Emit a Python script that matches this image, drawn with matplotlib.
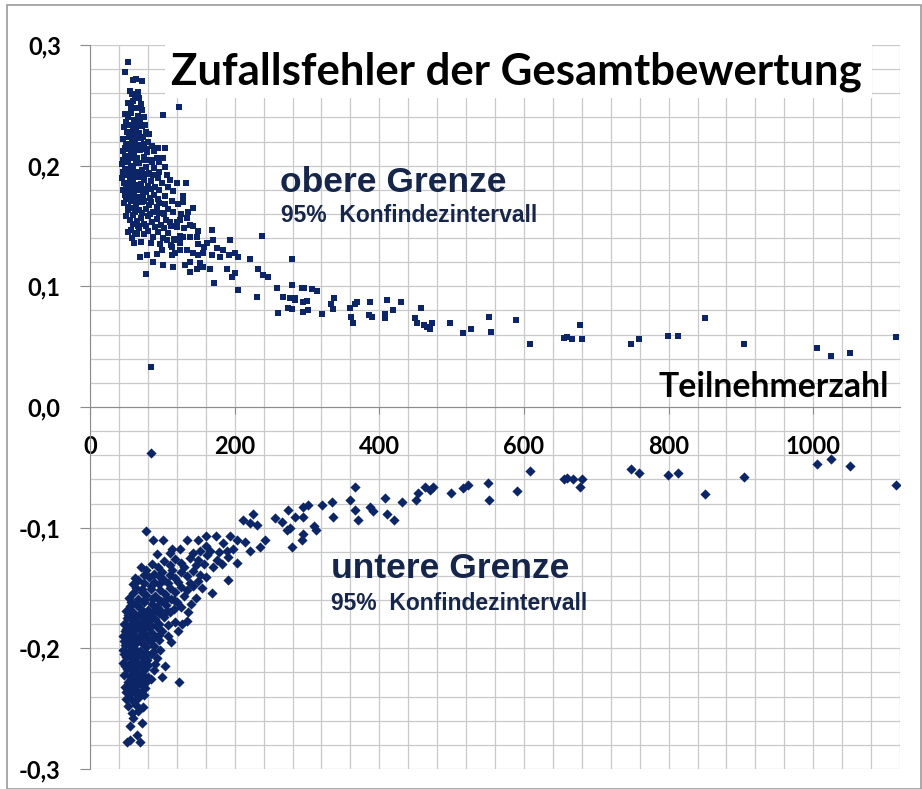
import numpy as np
import matplotlib
matplotlib.use("Agg")
import matplotlib.pyplot as plt
from matplotlib.patches import Rectangle
from matplotlib.ticker import MultipleLocator

# ---- data: (Teilnehmerzahl, Fehler) ----
upper_points = [
    # dense cluster
    (53, 0.286), (48, 0.278), (59, 0.271), (64, 0.272), (72, 0.270),
    (55, 0.262), (58, 0.259), (62, 0.257), (66, 0.261), (60, 0.254), (68, 0.256),
    (52, 0.252), (56, 0.249), (64, 0.248), (70, 0.251), (72, 0.246), (123, 0.249),
    (48, 0.243), (53, 0.240), (57, 0.244), (61, 0.238), (66, 0.241), (69, 0.236), (74, 0.240), (101, 0.242),
    (50, 0.236), (62, 0.235), (76, 0.234),
    (47, 0.232), (51, 0.228), (55, 0.234), (59, 0.229), (63, 0.231), (68, 0.227), (72, 0.233), (78, 0.228),
    (57, 0.226), (65, 0.225), (73, 0.224), (82, 0.226),
    (46, 0.222), (50, 0.218), (54, 0.224), (58, 0.219), (62, 0.221), (66, 0.216), (70, 0.223), (75, 0.218),
    (80, 0.220), (86, 0.216), (94, 0.215), (104, 0.215),
    (48, 0.215), (60, 0.216), (71, 0.217), (77, 0.214), (89, 0.212),
    (45, 0.212), (49, 0.208), (53, 0.214), (57, 0.209), (61, 0.211), (65, 0.206), (69, 0.213), (74, 0.207),
    (79, 0.211), (84, 0.205), (92, 0.206), (101, 0.206),
    (46, 0.205), (55, 0.206), (63, 0.204), (76, 0.205), (86, 0.203), (96, 0.203),
    (44, 0.201), (48, 0.197), (52, 0.203), (56, 0.198), (60, 0.200), (64, 0.195), (68, 0.202), (72, 0.196),
    (77, 0.199), (82, 0.194), (88, 0.198), (96, 0.195), (104, 0.199),
    (46, 0.195), (54, 0.194), (62, 0.193), (70, 0.192), (79, 0.193), (87, 0.192), (94, 0.190), (106, 0.192),
    (44, 0.190), (47, 0.186), (51, 0.192), (55, 0.187), (59, 0.189), (63, 0.184), (67, 0.191), (71, 0.185),
    (75, 0.188), (80, 0.183), (85, 0.187), (90, 0.182), (99, 0.186), (111, 0.188), (120, 0.186), (133, 0.186),
    (50, 0.184), (58, 0.183), (66, 0.182), (74, 0.181), (84, 0.181), (96, 0.180), (108, 0.182), (115, 0.179),
    (45, 0.180), (49, 0.176), (53, 0.181), (57, 0.177), (61, 0.179), (65, 0.174), (69, 0.180), (73, 0.175),
    (78, 0.178), (83, 0.173), (88, 0.176), (94, 0.172), (104, 0.175), (129, 0.175), (50, 0.177),
    (50, 0.172), (58, 0.173), (66, 0.172), (75, 0.171), (85, 0.170), (96, 0.169), (104, 0.168), (113, 0.171),
    (121, 0.168), (128, 0.170),
    (47, 0.169), (52, 0.166), (56, 0.171), (60, 0.165), (64, 0.168), (68, 0.163), (72, 0.170), (77, 0.164),
    (82, 0.167), (87, 0.162), (93, 0.166), (99, 0.161), (108, 0.164), (143, 0.165),
    (53, 0.163), (62, 0.162), (72, 0.161), (83, 0.160), (95, 0.161), (103, 0.160), (115, 0.162), (126, 0.160),
    (136, 0.162),
    (50, 0.158), (55, 0.155), (60, 0.159), (65, 0.154), (70, 0.157), (75, 0.152), (80, 0.158), (86, 0.153),
    (92, 0.156), (98, 0.151), (105, 0.155), (112, 0.150), (120, 0.153), (124, 0.155), (134, 0.157),
    (59, 0.152), (66, 0.150), (78, 0.150), (90, 0.149), (102, 0.148), (110, 0.153), (130, 0.148), (142, 0.150),
    (150, 0.146),
    (56, 0.147), (62, 0.144), (68, 0.148), (74, 0.143), (80, 0.146), (87, 0.141), (94, 0.145), (101, 0.140),
    (108, 0.144), (116, 0.139), (125, 0.142), (120, 0.149), (138, 0.151), (169, 0.147),
    (52, 0.145), (58, 0.140), (61, 0.136), (65, 0.143), (106, 0.138), (120, 0.138), (129, 0.141),
    (138, 0.141), (148, 0.141), (162, 0.136), (194, 0.138), (238, 0.142),
    (71, 0.137), (84, 0.136), (97, 0.135), (112, 0.134), (125, 0.136), (150, 0.135), (158, 0.133), (170, 0.138),
    (113, 0.133), (124, 0.130), (134, 0.130), (142, 0.128), (156, 0.128), (176, 0.132), (184, 0.130),
    (100, 0.130), (118, 0.128), (150, 0.126), (168, 0.126), (192, 0.126), (200, 0.128),
    (69, 0.124), (79, 0.126), (92, 0.127), (87, 0.120), (77, 0.110), (101, 0.118), (115, 0.116), (113, 0.126),
    (131, 0.118), (138, 0.120), (152, 0.119), (156, 0.116), (148, 0.114), (138, 0.112), (166, 0.114),
    (180, 0.124), (189, 0.114), (196, 0.108), (200, 0.111), (205, 0.124), (221, 0.123), (232, 0.114),
    (239, 0.109), (246, 0.108), (171, 0.103), (205, 0.097), (231, 0.091), (258, 0.099), (267, 0.091),
    (277, 0.090), (283, 0.090), (260, 0.078), (274, 0.082), (279, 0.123), (84, 0.033),
    # sparse part
    (279, 0.101), (279, 0.081), (283, 0.089), (293, 0.099), (296, 0.099), (294, 0.087), (300, 0.088),
    (294, 0.079), (301, 0.080), (307, 0.098), (314, 0.096), (321, 0.077), (337, 0.090), (333, 0.085),
    (336, 0.081), (360, 0.082), (364, 0.070), (366, 0.085), (369, 0.087), (361, 0.075), (387, 0.087),
    (386, 0.076), (390, 0.075), (408, 0.077), (408, 0.074), (411, 0.089), (419, 0.080), (430, 0.087),
    (449, 0.074), (452, 0.070), (458, 0.082), (462, 0.068), (466, 0.066), (470, 0.065), (473, 0.070),
    (498, 0.070), (516, 0.061), (527, 0.065), (552, 0.075), (554, 0.062), (589, 0.072), (608, 0.052),
    (655, 0.057), (659, 0.058), (666, 0.056), (677, 0.068), (680, 0.056), (748, 0.052), (759, 0.056),
    (799, 0.059), (813, 0.059), (850, 0.074), (904, 0.052), (1005, 0.049), (1025, 0.042), (1051, 0.045),
    (1115, 0.058),
]

lower_points = [
    # dense cluster
    (51, -0.278), (55, -0.276), (69, -0.278), (65, -0.272), (55, -0.264), (72, -0.262), (60, -0.258),
    (58, -0.254), (73, -0.249), (52, -0.248), (63, -0.247), (67, -0.252),
    (50, -0.242), (54, -0.238), (58, -0.243), (62, -0.237), (66, -0.241), (70, -0.236), (75, -0.239),
    (50, -0.236), (62, -0.234), (76, -0.233),
    (48, -0.232), (52, -0.228), (56, -0.233), (60, -0.227), (64, -0.231), (68, -0.226), (72, -0.230), (78, -0.228),
    (57, -0.225), (66, -0.224), (74, -0.223), (84, -0.225),
    (47, -0.222), (51, -0.217), (55, -0.223), (59, -0.218), (63, -0.221), (67, -0.216), (71, -0.222),
    (76, -0.217), (80, -0.224), (88, -0.218), (100, -0.224), (123, -0.228), (104, -0.215),
    (48, -0.215), (60, -0.216), (72, -0.216), (80, -0.214), (90, -0.213),
    (46, -0.212), (50, -0.207), (54, -0.213), (58, -0.208), (62, -0.211), (66, -0.206), (70, -0.212),
    (74, -0.207), (79, -0.210), (85, -0.205), (92, -0.208),
    (47, -0.205), (56, -0.204), (64, -0.205), (77, -0.204), (87, -0.203), (97, -0.201),
    (45, -0.201), (49, -0.197), (53, -0.203), (57, -0.198), (61, -0.200), (65, -0.195), (69, -0.202),
    (73, -0.196), (78, -0.199), (83, -0.194), (89, -0.198), (96, -0.193),
    (47, -0.194), (55, -0.194), (63, -0.193), (71, -0.192), (80, -0.192), (88, -0.191), (96, -0.189), (108, -0.190),
    (45, -0.190), (48, -0.186), (52, -0.191), (56, -0.186), (60, -0.189), (64, -0.184), (68, -0.190),
    (72, -0.185), (76, -0.188), (81, -0.183), (86, -0.187), (92, -0.182), (100, -0.186), (112, -0.195),
    (122, -0.186),
    (50, -0.184), (58, -0.183), (66, -0.182), (74, -0.181), (84, -0.181), (96, -0.180), (108, -0.181),
    (118, -0.178), (127, -0.180),
    (47, -0.180), (51, -0.175), (55, -0.181), (59, -0.176), (63, -0.178), (67, -0.173), (71, -0.179),
    (75, -0.174), (80, -0.177), (85, -0.172), (90, -0.176), (96, -0.171), (103, -0.174), (110, -0.170),
    (134, -0.177),
    (52, -0.172), (60, -0.174), (68, -0.172), (77, -0.171), (87, -0.170), (97, -0.168), (106, -0.169),
    (116, -0.167), (126, -0.166), (140, -0.163),
    (50, -0.169), (55, -0.165), (60, -0.170), (65, -0.164), (70, -0.167), (75, -0.162), (80, -0.168),
    (86, -0.163), (92, -0.166), (98, -0.161), (105, -0.164), (112, -0.159), (120, -0.162), (135, -0.170),
    (57, -0.162), (64, -0.163), (74, -0.160), (86, -0.159), (95, -0.160), (106, -0.158), (116, -0.160),
    (130, -0.157), (146, -0.158), (155, -0.150),
    (54, -0.158), (60, -0.154), (66, -0.159), (72, -0.153), (78, -0.156), (84, -0.151), (90, -0.157),
    (97, -0.152), (104, -0.155), (111, -0.150), (118, -0.153), (126, -0.149), (134, -0.152), (143, -0.148),
    (169, -0.154),
    (64, -0.150), (72, -0.151), (84, -0.148), (96, -0.147), (108, -0.146), (122, -0.145), (138, -0.146),
    (150, -0.144), (160, -0.141),
    (60, -0.147), (67, -0.143), (74, -0.146), (81, -0.141), (88, -0.145), (95, -0.140), (102, -0.143),
    (110, -0.139), (118, -0.142), (126, -0.137), (134, -0.140), (143, -0.136), (152, -0.139), (191, -0.143),
    (74, -0.139), (88, -0.138), (100, -0.137), (114, -0.135), (130, -0.133), (146, -0.131), (158, -0.130),
    (170, -0.133), (182, -0.130),
    (62, -0.142), (70, -0.133), (78, -0.135), (86, -0.130), (94, -0.133), (102, -0.128), (110, -0.131),
    (118, -0.126), (126, -0.129), (138, -0.125), (150, -0.127), (162, -0.123), (175, -0.127), (191, -0.124),
    (203, -0.129),
    (110, -0.121), (125, -0.118), (160, -0.115), (178, -0.120), (198, -0.118), (214, -0.112),
    (77, -0.103), (87, -0.110), (101, -0.110), (92, -0.122), (113, -0.118), (134, -0.110), (150, -0.110),
    (161, -0.107), (174, -0.107), (143, -0.121), (152, -0.119), (166, -0.119), (184, -0.113), (189, -0.119),
    (194, -0.107), (203, -0.110), (221, -0.119), (235, -0.116), (242, -0.110), (212, -0.094), (226, -0.089),
    (221, -0.096), (231, -0.098), (256, -0.092), (265, -0.095), (274, -0.085), (283, -0.091), (279, -0.116),
    (272, -0.102), (84, -0.038),
    # sparse part
    (293, -0.110), (295, -0.105), (277, -0.100), (295, -0.083), (302, -0.081), (295, -0.091), (310, -0.099),
    (313, -0.102), (321, -0.081), (334, -0.079), (336, -0.091), (360, -0.077), (366, -0.066), (367, -0.085),
    (371, -0.094), (387, -0.083), (391, -0.086), (408, -0.075), (411, -0.089), (421, -0.094), (431, -0.079),
    (451, -0.077), (454, -0.071), (463, -0.066), (470, -0.069), (474, -0.066), (499, -0.071),
    (516, -0.067), (523, -0.065), (551, -0.063), (552, -0.077), (590, -0.070), (608, -0.053),
    (655, -0.060), (659, -0.059), (668, -0.060), (677, -0.066), (680, -0.060), (748, -0.051), (759, -0.055),
    (799, -0.056), (813, -0.055), (850, -0.072), (904, -0.058), (1005, -0.047), (1025, -0.043),
    (1051, -0.049), (1115, -0.065),
]

x_ticks = [0, 200, 400, 600, 800, 1000]
x_tick_labels = ["0", "200", "400", "600", "800", "1000"]
y_ticks = [-0.3, -0.2, -0.1, 0.0, 0.1, 0.2, 0.3]
y_tick_labels = ["-0,3", "-0,2", "-0,1", "0,0", "0,1", "0,2", "0,3"]

NAVY = "#0b2566"
TEXT_NAVY = "#16264a"
GRID = "#c9c9c9"

ux, uy = np.array(upper_points).T
lx, ly = np.array(lower_points).T

fig = plt.figure(figsize=(9.22, 7.89), dpi=100)
ax = fig.add_axes([90 / 922, 1 - 769 / 789, 810 / 922, 724 / 789])

ax.set_xlim(0, 1120)
ax.set_ylim(-0.3, 0.3)

ax.scatter(ux, uy, marker="s", s=24, color=NAVY, linewidths=0, zorder=3)
ax.scatter(lx, ly, marker="D", s=27, color=NAVY, linewidths=0, zorder=3)

# grid
ax.xaxis.set_minor_locator(MultipleLocator(40))
ax.yaxis.set_minor_locator(MultipleLocator(0.02))
ax.grid(True, which="both", color=GRID, lw=0.9, zorder=0)
ax.set_axisbelow(True)

ax.set_xticks(x_ticks)
ax.set_xticklabels(x_tick_labels)
ax.set_yticks(y_ticks)
ax.set_yticklabels(y_tick_labels)

for side in ["top", "right"]:
    ax.spines[side].set_visible(False)
ax.spines["bottom"].set_position(("data", 0))
ax.spines["bottom"].set_color("#8c8c8c")
ax.spines["left"].set_color("#8c8c8c")

ax.tick_params(axis="both", which="minor", length=0)
ax.tick_params(axis="y", which="major", length=7, color="#8c8c8c", pad=14)
ax.tick_params(axis="x", which="major", length=5, color="#8c8c8c", pad=15)
for lab in ax.get_xticklabels() + ax.get_yticklabels():
    lab.set_fontfamily("Lato")
    lab.set_fontweight("bold")
    lab.set_fontsize(17)
    lab.set_color("black")

# title on white box, covering the grid behind it
ax.add_patch(Rectangle((0.0926, 0.927), 0.873, 0.073, transform=ax.transAxes,
                       facecolor="white", edgecolor="none", zorder=1))
ax.text(0.527, 0.963, "Zufallsfehler der Gesamtbewertung", transform=ax.transAxes,
        ha="center", va="center", fontsize=31.5, fontweight="bold", family="Lato",
        color="black", zorder=4)

ax.text(0.987, 0.514, "Teilnehmerzahl", transform=ax.transAxes, ha="right",
        va="baseline", fontsize=24.3, fontweight="bold", family="Lato", color="black", zorder=4)

ax.text(0.235, 0.797, "obere Grenze", transform=ax.transAxes, ha="left", va="baseline",
        fontsize=25.5, fontweight="bold", family="Liberation Sans", color=TEXT_NAVY, zorder=4)
ax.text(0.236, 0.756, "95%  Konfindezintervall", transform=ax.transAxes, ha="left",
        va="baseline", fontsize=16.5, fontweight="bold", family="Liberation Sans",
        color=TEXT_NAVY, zorder=4)
ax.text(0.297, 0.264, "untere Grenze", transform=ax.transAxes, ha="left", va="baseline",
        fontsize=25.5, fontweight="bold", family="Liberation Sans", color=TEXT_NAVY, zorder=4)
ax.text(0.298, 0.220, "95%  Konfindezintervall", transform=ax.transAxes, ha="left",
        va="baseline", fontsize=16.5, fontweight="bold", family="Liberation Sans",
        color=TEXT_NAVY, zorder=4)

# outer frame of the picture
fig.patches.append(Rectangle((7 / 922, 0), 914 / 922, 1 - 5 / 789, transform=fig.transFigure,
                             facecolor="none", edgecolor="#9a9a9a", lw=1.2))

fig.savefig("out.png", dpi=100)
